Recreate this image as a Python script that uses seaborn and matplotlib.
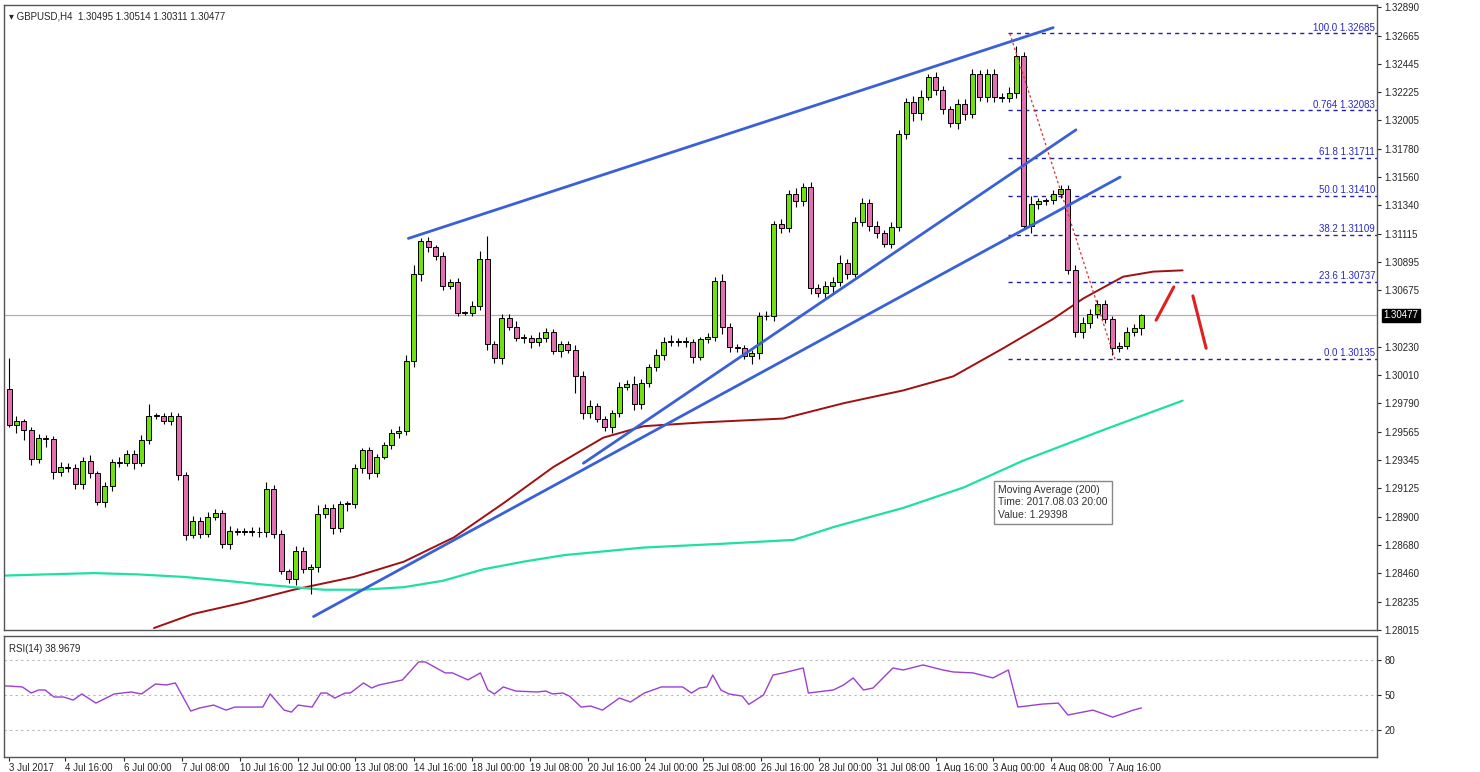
import numpy as np
import pandas as pd
import matplotlib
matplotlib.use("Agg")
import matplotlib.pyplot as plt
import seaborn as sns

sns.set_style("white")
plt.rcParams['font.family'] = ['Liberation Sans', 'DejaVu Sans']

first_open = 1.2990
closes = [1.2962,1.2965,1.2958,1.2935,1.2952,1.2951,1.2925,1.2929,1.2928,1.2916,
          1.2934,1.2924,1.2902,1.2914,1.2933,1.2932,1.2939,1.2932,1.2950,1.2969,
          1.2969,1.2965,1.2969,1.2923,1.2876,1.2887,1.2877,1.2890,1.2893,1.2869,
          1.2879,1.2878,1.2879,1.2878,1.2878,1.2912,1.2877,1.2848,1.2841,1.2863,
          1.2849,1.2851,1.2892,1.2897,1.2881,1.2900,1.2900,1.2928,1.2942,1.2924,
          1.2937,1.2946,1.2956,1.2957,1.3012,1.3080,1.3106,1.3101,1.3094,1.3071,
          1.3074,1.3050,1.3050,1.3055,1.3092,1.3025,1.3014,1.3046,1.3039,1.3030,
          1.3030,1.3027,1.3030,1.3035,1.3020,1.3025,1.3021,1.3000,1.2971,1.2977,
          1.2967,1.2960,1.2971,1.2992,1.2994,1.2978,1.2995,1.3007,1.3017,1.3027,
          1.3027,1.3027,1.3027,1.3015,1.3029,1.3031,1.3075,1.3039,1.3023,1.3022,
          1.3016,1.3018,1.3047,1.3047,1.3119,1.3116,1.3143,1.3137,1.3148,1.3069,
          1.3065,1.3071,1.3074,1.3089,1.3080,1.3121,1.3136,1.3118,1.3112,1.3104,
          1.3117,1.3190,1.3215,1.3206,1.3219,1.3234,1.3224,1.3209,1.3198,1.3213,
          1.3205,1.3237,1.3219,1.3237,1.3219,1.3218,1.3222,1.3251,1.3118,1.3135,
          1.3137,1.3138,1.3143,1.3147,1.3083,1.3035,1.3042,1.3049,1.3057,1.3045,
          1.3022,1.3024,1.3035,1.3038,1.30477]
# wick lengths in pips (0.0001)
wick_up = [49,8,3,5,6,4,5,8,6,7, 5,9,4,6,5,7,6,7,8,18,
           5,4,6,5,4,8,6,8,6,5, 7,5,4,6,8,10,6,5,3,9,
           7,4,15,6,6,5,5,7,4,6, 5,6,5,8,9,14,5,6,3,7,
           4,6,3,8,12,35,5,6,5,8, 6,5,9,6,4,5,6,7,8,9,
           5,4,6,7,6,12,6,5,9,8, 11,6,7,5,4,6,5,10,6,5,
           5,6,7,9,6,8,6,9,7,8, 6,7,8,12,5,7,8,6,7,5,
           8,6,6,9,10,6,8,7,6,8, 9,7,6,8,7,6,9,16,6,12,
           5,4,6,5,6,8,9,7,5,6, 5,6,7,6,3]
wick_dn = [3,12,15,8,6,12,10,6,5,8, 9,7,5,8,7,6,5,9,4,6,
           5,5,6,9,8,5,7,6,5,6, 9,5,4,6,7,8,7,6,5,8,
           6,38,8,6,9,5,10,6,7,8, 6,4,5,8,6,9,10,8,6,7,
           5,6,4,5,6,8,7,9,6,5, 8,9,7,6,5,9,5,26,9,7,
           6,5,9,5,6,8,7,6,5,9, 7,6,8,9,5,6,7,12,8,6,
           5,12,9,6,8,7,6,9,8,9, 6,7,12,6,8,5,7,9,8,6,
           7,6,8,12,10,6,8,7,6,9, 8,6,7,9,8,7,6,8,3,12,
           8,5,6,7,5,9,10,8,6,7, 10,6,5,7,12]

red_idx = [19.7,25.0,31.9,38.7,46.9,53.7,60.5,67.3,74.0,80.8,86.3,94.4,105.3,113.5,121.6,128.4,135.2,142.0,146.1,151.5,155.6,159.6]
red_val = [1.2803,1.2814,1.2823,1.2833,1.2843,1.2855,1.2874,1.2901,1.2929,1.2952,1.2961,1.2964,1.2967,1.2979,1.2989,1.3000,1.3022,1.3045,1.3061,1.3078,1.3082,1.3083]
grn_idx = [-1,5.0,11.5,17.5,23.8,29.5,34.6,38.7,42.8,48.0,53.7,59.0,64.5,70.0,75.4,86.3,97.1,106.7,112.1,116.5,121.6,129.8,137.9,148.8,159.6]
grn_val = [1.2844,1.2845,1.2846,1.2845,1.2843,1.2840,1.2837,1.2835,1.2833,1.2833,1.2835,1.2840,1.2849,1.2855,1.2860,1.2866,1.2869,1.2872,1.2882,1.2889,1.2897,1.2913,1.2934,1.2958,1.2981]

rsi_idx = [-0.7,-0.1,1.8,3.0,4.0,4.9,6.1,7.4,8.7,9.9,11.8,14.3,16.6,18.0,19.9,21.4,22.6,24.7,25.9,27.8,29.5,30.7,
           32.6,34.5,35.5,37.4,38.4,39.3,41.2,42.4,43.2,44.3,45.7,46.4,48.2,49.3,50.3,52.2,53.5,55.7,56.6,
           59.3,60.3,62.4,64.1,65.1,66.0,67.2,68.9,71.8,73.0,73.9,75.3,76.2,77.8,79.1,80.7,83.0,84.5,86.4,
           88.7,91.6,92.8,93.9,94.9,95.7,96.8,97.9,99.7,100.6,102.6,103.9,105.3,108.0,108.7,112.1,113.5,114.8,
           116.2,117.5,120.2,121.6,124.3,127.0,128.4,131.1,133.8,135.9,137.2,140.6,142.7,144.0,147.4,150.1,152.9,154.0]
rsi_val = [57.7,57.7,56.9,51.7,54.3,54.3,48.3,48.3,45.7,50.9,43.1,50.9,52.6,50.9,59.4,58.6,60.3,36.3,38.9,41.4,37.1,39.7,
           39.7,39.7,50.9,37.1,35.4,41.4,39.7,51.7,51.7,47.4,51.7,51.7,60.3,56.0,58.6,61.1,62.9,78.3,78.3,
           68.9,68.9,62.9,68.9,54.3,50.9,56.9,53.4,52.6,53.4,50.9,51.7,49.1,39.7,40.6,37.1,47.4,44.0,51.7,
           56.9,56.9,51.7,56.0,56.9,67.1,54.3,50.9,49.1,42.0,50.0,67.1,68.9,73.1,51.7,54.3,58.6,64.6,
           54.3,56.0,73.1,71.4,75.7,71.4,69.7,68.9,64.6,71.4,39.7,42.3,43.1,32.9,37.1,31.1,37.1,38.97]

fib_pct = ["100.0", "0.764", "61.8", "50.0", "38.2", "23.6", "0.0"]
fib_val = [1.32685, 1.32083, 1.31711, 1.31410, 1.31109, 1.30737, 1.30135]
trend_lines = [((54.3, 1.3108), (142.0, 1.3273)),
               ((78.1, 1.2932), (145.1, 1.3193)),
               ((41.4, 1.2812), (151.1, 1.3156))]
fib_diag = ((136.1, 1.32685), (150.4, 1.30135))
arrows = [((156.0, 1.3044), (158.4, 1.3070)), ((161.0, 1.3063), (162.8, 1.3022))]
price_ticks = [1.32890,1.32665,1.32445,1.32225,1.32005,1.31780,1.31560,1.31340,1.31115,1.30895,1.30675,
               1.30230,1.30010,1.29790,1.29565,1.29345,1.29125,1.28900,1.28680,1.28460,1.28235,1.28015]
time_labels = ["3 Jul 2017","4 Jul 16:00","6 Jul 00:00","7 Jul 08:00","10 Jul 16:00","12 Jul 00:00",
               "13 Jul 08:00","14 Jul 16:00","18 Jul 00:00","19 Jul 08:00","20 Jul 16:00","24 Jul 00:00",
               "25 Jul 08:00","26 Jul 16:00","28 Jul 00:00","31 Jul 08:00","1 Aug 16:00","3 Aug 00:00",
               "4 Aug 08:00","7 Aug 16:00"]
time_pos = [0,7.6,15.6,23.5,31.4,39.3,47.1,55.0,62.9,70.8,78.7,86.5,94.4,102.3,110.2,118.1,126.0,133.8,141.7,149.6]
last_price = 1.30477

n = len(closes)
opens = [first_open] + closes[:-1]
df = pd.DataFrame({"i": np.arange(n), "open": opens, "close": closes})
df["high"] = np.maximum(df.open, df.close) + np.array(wick_up[:n]) * 1e-4 * 0.5
df["low"] = np.minimum(df.open, df.close) - np.array(wick_dn[:n]) * 1e-4 * 0.5

fig = plt.figure(figsize=(14.8, 7.72), dpi=100)
ax = fig.add_axes([0.0027, 0.184, 0.928, 0.8095])
ax2 = fig.add_axes([0.0027, 0.0194, 0.928, 0.157])
XL = (-0.7, 186.1)

ax.axhline(last_price, color="#b0b0b0", lw=0.9, zorder=1)
sns.lineplot(x=red_idx, y=red_val, ax=ax, color="#a01010", lw=1.4, zorder=2)
sns.lineplot(x=grn_idx, y=grn_val, ax=ax, color="#20e0a0", lw=1.6, zorder=2)
up = df.close >= df.open
ax.vlines(df.i, df.low, df.high, color="black", lw=0.8, zorder=3)
for mask, col in [(up, "#70e010"), (~up, "#e070b0")]:
    d = df[mask]
    h = (d.close - d.open).abs().clip(lower=0.00005)
    ax.bar(d.i, h, bottom=np.minimum(d.open, d.close), width=0.68, color=col,
           edgecolor="black", linewidth=0.7, zorder=4)
for (a, b) in trend_lines:
    ax.plot([a[0], b[0]], [a[1], b[1]], color="#3a60d8", lw=2.0, zorder=5)
for p, v in zip(fib_pct, fib_val):
    ax.plot([135.9, XL[1]], [v, v], color="#2020b0", lw=1.0, ls=(0, (3, 3)), zorder=2)
    ax.text(XL[1] - 0.3, v + 0.00006, f"{p} {v:.5f}", color="#2828c8", fontsize=7,
            ha="right", va="bottom")
ax.plot([fib_diag[0][0], fib_diag[1][0]], [fib_diag[0][1], fib_diag[1][1]],
        color="#e03030", lw=0.9, ls=(0, (2, 2)), zorder=5)
for (a, b) in arrows:
    ax.plot([a[0], b[0]], [a[1], b[1]], color="#e02020", lw=2.2, zorder=5)

ax.set_xlim(*XL)
ax.set_ylim(1.28038, 1.32907)
ax.yaxis.tick_right()
ax.set_yticks(price_ticks)
ax.set_yticklabels([f"{t:.5f}" for t in price_ticks], fontsize=7)
ax.tick_params(axis="y", length=3, pad=2, direction="out", right=True)
ax.set_xticks([])
ax.text(0.004, 0.99, "\u25BE GBPUSD,H4  1.30495 1.30514 1.30311 1.30477", transform=ax.transAxes,
        fontsize=7, va="top", ha="left")
ax.text(XL[1] + 0.8, last_price, f"{last_price:.5f}", fontsize=7, color="white", va="center",
        ha="left", bbox=dict(boxstyle="square,pad=0.15", fc="black", ec="black"), clip_on=False)
ax.text(134.5, 1.2915, "Moving Average (200)\nTime: 2017.08.03 20:00\nValue: 1.29398", fontsize=7.5,
        color="#333333", va="top", ha="left", linespacing=1.3,
        bbox=dict(boxstyle="square,pad=0.4", fc="white", ec="#888888"))

for lvl in [80, 50, 20]:
    ax2.axhline(lvl, color="#b8b8b8", lw=0.8, ls=(0, (2, 3)))
sns.lineplot(x=rsi_idx, y=rsi_val, ax=ax2, color="#9a40d0", lw=1.0)
ax2.set_xlim(*XL)
ax2.set_ylim(-3, 100.6)
ax2.yaxis.tick_right()
ax2.set_yticks([80, 50, 20])
ax2.set_yticklabels(["80", "50", "20"], fontsize=7)
ax2.set_xticks(time_pos)
ax2.set_xticklabels(time_labels, fontsize=7, ha="left")
ax2.tick_params(axis="x", length=3, pad=1, direction="out", bottom=True)
ax2.tick_params(axis="y", length=3, pad=2, right=True)
ax2.text(0.004, 0.93, "RSI(14) 38.9679", transform=ax2.transAxes, fontsize=7, va="top")
for a in (ax, ax2):
    for s in a.spines.values():
        s.set_color("#555555")
        s.set_linewidth(1.0)
fig.savefig("out.png", dpi=100, facecolor="white")
